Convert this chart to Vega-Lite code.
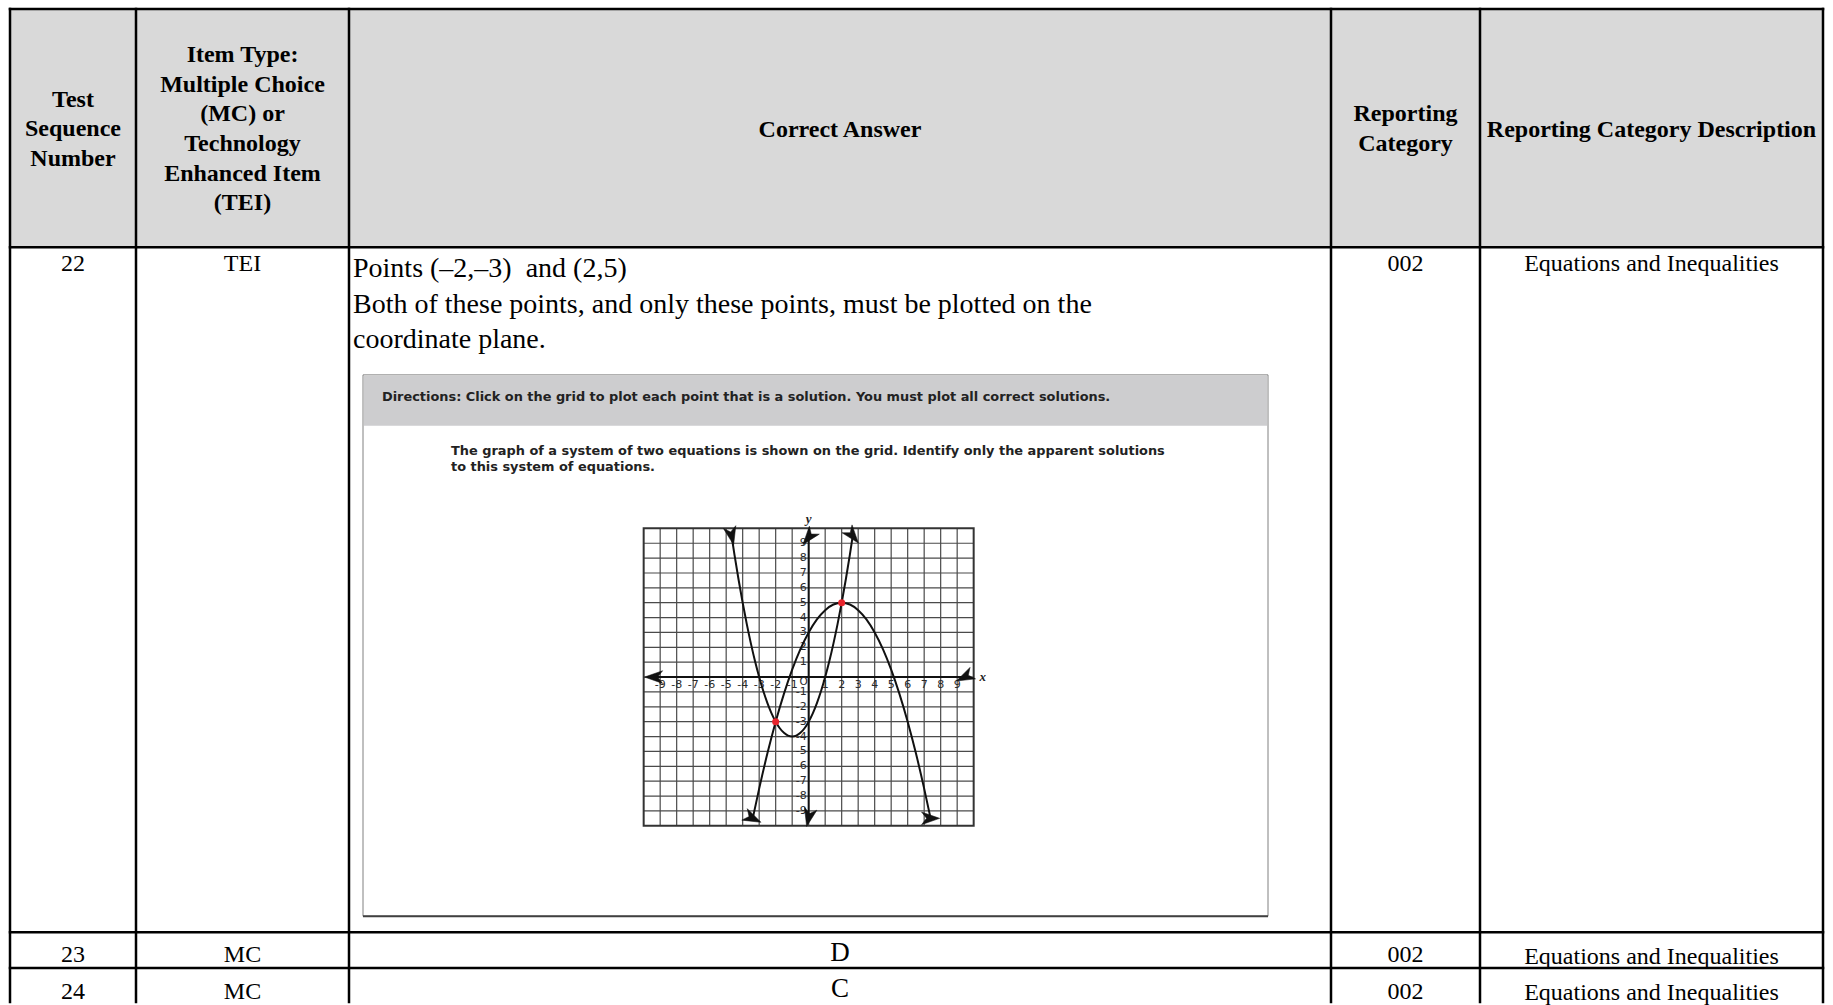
{
  "$schema": "https://vega.github.io/schema/vega-lite/v6.json",
  "width": 1833,
  "height": 1005,
  "autosize": {"type": "fit", "contains": "padding"},
  "padding": 0,
  "background": "white",
  "config": {"view": {"stroke": null}},
  "datasets": {
    "hdr": [{"x0": 10, "x1": 1823, "y0": 9, "y1": 248}],
    "box": [{"x0": 363, "x1": 1268, "y0": 376, "y1": 919}],
    "band": [{"x0": 364, "x1": 1267, "y0": 377, "y1": 427}],
    "vlines": [{"x": 10}, {"x": 136}, {"x": 349}, {"x": 1331}, {"x": 1480}, {"x": 1823}],
    "hlines": [{"y": 9}, {"y": 248}, {"y": 935}, {"y": 971}],
    "headers": [
      {"x": 73, "y": 100, "t": "Test\nSequence\nNumber"},
      {"x": 242.5, "y": 55, "t": "Item Type:\nMultiple Choice\n(MC) or\nTechnology\nEnhanced Item\n(TEI)"},
      {"x": 840, "y": 130, "t": "Correct Answer"},
      {"x": 1405.5, "y": 114.6, "t": "Reporting\nCategory"},
      {"x": 1651.5, "y": 130, "t": "Reporting Category Description"}
    ],
    "cells": [
      {"x": 73, "y": 265, "t": "22"},
      {"x": 242.5, "y": 265, "t": "TEI"},
      {"x": 1405.5, "y": 265, "t": "002"},
      {"x": 1651.5, "y": 265, "t": "Equations and Inequalities"},
      {"x": 73, "y": 958, "t": "23"},
      {"x": 242.5, "y": 958, "t": "MC"},
      {"x": 1405.5, "y": 958, "t": "002"},
      {"x": 1651.5, "y": 959.5, "t": "Equations and Inequalities"},
      {"x": 73, "y": 994.5, "t": "24"},
      {"x": 242.5, "y": 994.5, "t": "MC"},
      {"x": 1405.5, "y": 994.5, "t": "002"},
      {"x": 1651.5, "y": 995.5, "t": "Equations and Inequalities"}
    ],
    "letters": [
      {"x": 840, "y": 956, "t": "D"},
      {"x": 840, "y": 992, "t": "C"}
    ],
    "answer": [
      {"x": 353, "y": 270, "t": "Points (–2,–3)\u00a0 and (2,5)"},
      {"x": 353, "y": 306, "t": "Both of these points, and only these points, must be plotted on the"},
      {"x": 353, "y": 341, "t": "coordinate plane."}
    ],
    "directions": [
      {"x": 382, "y": 398.5, "t": "Directions: Click on the grid to plot each point that is a solution. You must plot all correct solutions."}
    ],
    "question": [
      {"x": 451, "y": 452, "t": "The graph of a system of two equations is shown on the grid. Identify only the apparent solutions"},
      {"x": 451, "y": 468, "t": "to this system of equations."}
    ],
    "grid": [
      {"v": -9}, {"v": -8}, {"v": -7}, {"v": -6}, {"v": -5}, {"v": -4}, {"v": -3}, {"v": -2}, {"v": -1}, {"v": 0},
      {"v": 1}, {"v": 2}, {"v": 3}, {"v": 4}, {"v": 5}, {"v": 6}, {"v": 7}, {"v": 8}, {"v": 9}
    ],
    "gridbox": [{"x0": -10, "x1": 10, "y0": -10, "y1": 10}],
    "ticks": [
      {"v": -9, "t": "-9"}, {"v": -8, "t": "-8"}, {"v": -7, "t": "-7"}, {"v": -6, "t": "-6"}, {"v": -5, "t": "-5"},
      {"v": -4, "t": "-4"}, {"v": -3, "t": "-3"}, {"v": -2, "t": "-2"}, {"v": -1, "t": "-1"},
      {"v": 1, "t": "1"}, {"v": 2, "t": "2"}, {"v": 3, "t": "3"}, {"v": 4, "t": "4"}, {"v": 5, "t": "5"},
      {"v": 6, "t": "6"}, {"v": 7, "t": "7"}, {"v": 8, "t": "8"}, {"v": 9, "t": "9"}
    ],
    "curves": [
      {"s": "up", "x": -4.67, "y": 9.49}, {"s": "up", "x": -4.5, "y": 8.25}, {"s": "up", "x": -4.25, "y": 6.56},
      {"s": "up", "x": -4, "y": 5}, {"s": "up", "x": -3.75, "y": 3.56}, {"s": "up", "x": -3.5, "y": 2.25},
      {"s": "up", "x": -3.25, "y": 1.06}, {"s": "up", "x": -3, "y": 0}, {"s": "up", "x": -2.75, "y": -0.94},
      {"s": "up", "x": -2.5, "y": -1.75}, {"s": "up", "x": -2.25, "y": -2.44}, {"s": "up", "x": -2, "y": -3},
      {"s": "up", "x": -1.75, "y": -3.44}, {"s": "up", "x": -1.5, "y": -3.75}, {"s": "up", "x": -1.25, "y": -3.94},
      {"s": "up", "x": -1, "y": -4}, {"s": "up", "x": -0.75, "y": -3.94}, {"s": "up", "x": -0.5, "y": -3.75},
      {"s": "up", "x": -0.25, "y": -3.44}, {"s": "up", "x": 0, "y": -3}, {"s": "up", "x": 0.25, "y": -2.44},
      {"s": "up", "x": 0.5, "y": -1.75}, {"s": "up", "x": 0.75, "y": -0.94}, {"s": "up", "x": 1, "y": 0},
      {"s": "up", "x": 1.25, "y": 1.06}, {"s": "up", "x": 1.5, "y": 2.25}, {"s": "up", "x": 1.75, "y": 3.56},
      {"s": "up", "x": 2, "y": 5}, {"s": "up", "x": 2.25, "y": 6.56}, {"s": "up", "x": 2.5, "y": 8.25},
      {"s": "up", "x": 2.67, "y": 9.49},
      {"s": "down", "x": -3.39, "y": -9.5}, {"s": "down", "x": -3, "y": -7.5}, {"s": "down", "x": -2.5, "y": -5.13},
      {"s": "down", "x": -2, "y": -3}, {"s": "down", "x": -1.5, "y": -1.13}, {"s": "down", "x": -1, "y": 0.5},
      {"s": "down", "x": -0.5, "y": 1.88}, {"s": "down", "x": 0, "y": 3}, {"s": "down", "x": 0.5, "y": 3.88},
      {"s": "down", "x": 1, "y": 4.5}, {"s": "down", "x": 1.5, "y": 4.88}, {"s": "down", "x": 2, "y": 5},
      {"s": "down", "x": 2.5, "y": 4.88}, {"s": "down", "x": 3, "y": 4.5}, {"s": "down", "x": 3.5, "y": 3.88},
      {"s": "down", "x": 4, "y": 3}, {"s": "down", "x": 4.5, "y": 1.88}, {"s": "down", "x": 5, "y": 0.5},
      {"s": "down", "x": 5.5, "y": -1.13}, {"s": "down", "x": 6, "y": -3}, {"s": "down", "x": 6.5, "y": -5.13},
      {"s": "down", "x": 7, "y": -7.5}, {"s": "down", "x": 7.39, "y": -9.5}
    ],
    "arrows": [
      {"id": "xl", "x": -9.4, "y": 0}, {"id": "xr", "x": 9.45, "y": 0},
      {"id": "yt", "x": 0, "y": 9.4}, {"id": "yb", "x": 0, "y": -9.45},
      {"id": "ul", "x": -4.67, "y": 9.49}, {"id": "ur", "x": 2.67, "y": 9.49},
      {"id": "dl", "x": -3.39, "y": -9.5}, {"id": "dr", "x": 7.39, "y": -9.5}
    ],
    "sol": [{"x": -2, "y": -3}, {"x": 2, "y": 5}],
    "axislabels": [{"x": 10.55, "y": 0, "t": "x"}, {"x": 0, "y": 10.6, "t": "y"}]
  },
  "layer": [
    {
      "layer": [
        {
          "data": {"name": "hdr"},
          "mark": {"type": "rect", "fill": "#d9d9d9"},
          "encoding": {
            "x": {"field": "x0", "type": "quantitative", "scale": {"domain": [0, 1833], "nice": false, "zero": false}, "axis": null},
            "x2": {"field": "x1"},
            "y": {"field": "y0", "type": "quantitative", "scale": {"domain": [0, 1005], "nice": false, "zero": false, "reverse": true}, "axis": null},
            "y2": {"field": "y1"}
          }
        },
        {
          "data": {"name": "box"},
          "mark": {"type": "rect", "fill": "white", "stroke": "#808080", "strokeWidth": 1},
          "encoding": {
            "x": {"field": "x0", "type": "quantitative", "scale": {"domain": [0, 1833], "nice": false, "zero": false}, "axis": null},
            "x2": {"field": "x1"},
            "y": {"field": "y0", "type": "quantitative", "scale": {"domain": [0, 1005], "nice": false, "zero": false, "reverse": true}, "axis": null},
            "y2": {"field": "y1"}
          }
        },
        {
          "data": {"name": "band"},
          "mark": {"type": "rect", "fill": "#cdcdcf"},
          "encoding": {
            "x": {"field": "x0", "type": "quantitative", "scale": {"domain": [0, 1833], "nice": false, "zero": false}, "axis": null},
            "x2": {"field": "x1"},
            "y": {"field": "y0", "type": "quantitative", "scale": {"domain": [0, 1005], "nice": false, "zero": false, "reverse": true}, "axis": null},
            "y2": {"field": "y1"}
          }
        },
        {
          "data": {"name": "box"},
          "mark": {"type": "rule", "stroke": "#404040", "strokeWidth": 2},
          "encoding": {
            "x": {"field": "x0", "type": "quantitative", "scale": {"domain": [0, 1833], "nice": false, "zero": false}, "axis": null},
            "x2": {"field": "x1"},
            "y": {"field": "y1", "type": "quantitative", "scale": {"domain": [0, 1005], "nice": false, "zero": false, "reverse": true}, "axis": null}
          }
        },
        {
          "data": {"name": "vlines"},
          "mark": {"type": "rule", "stroke": "black", "strokeWidth": 2.5, "strokeCap": "square"},
          "encoding": {
            "x": {"field": "x", "type": "quantitative", "scale": {"domain": [0, 1833], "nice": false, "zero": false}, "axis": null},
            "y": {"datum": 9, "type": "quantitative", "scale": {"domain": [0, 1005], "nice": false, "zero": false, "reverse": true}, "axis": null},
            "y2": {"datum": 1005}
          }
        },
        {
          "data": {"name": "hlines"},
          "mark": {"type": "rule", "stroke": "black", "strokeWidth": 2.5, "strokeCap": "square"},
          "encoding": {
            "y": {"field": "y", "type": "quantitative", "scale": {"domain": [0, 1005], "nice": false, "zero": false, "reverse": true}, "axis": null},
            "x": {"datum": 10, "type": "quantitative", "scale": {"domain": [0, 1833], "nice": false, "zero": false}, "axis": null},
            "x2": {"datum": 1823}
          }
        },
        {
          "data": {"name": "headers"},
          "mark": {"type": "text", "font": "Liberation Serif", "fontSize": 24, "fontWeight": "bold", "align": "center", "baseline": "middle", "lineBreak": "\n", "lineHeight": 29.7, "fill": "black"},
          "encoding": {
            "x": {"field": "x", "type": "quantitative", "scale": {"domain": [0, 1833], "nice": false, "zero": false}, "axis": null},
            "y": {"field": "y", "type": "quantitative", "scale": {"domain": [0, 1005], "nice": false, "zero": false, "reverse": true}, "axis": null},
            "text": {"field": "t"}
          }
        },
        {
          "data": {"name": "cells"},
          "mark": {"type": "text", "font": "Liberation Serif", "fontSize": 24, "align": "center", "baseline": "middle", "fill": "black"},
          "encoding": {
            "x": {"field": "x", "type": "quantitative", "scale": {"domain": [0, 1833], "nice": false, "zero": false}, "axis": null},
            "y": {"field": "y", "type": "quantitative", "scale": {"domain": [0, 1005], "nice": false, "zero": false, "reverse": true}, "axis": null},
            "text": {"field": "t"}
          }
        },
        {
          "data": {"name": "letters"},
          "mark": {"type": "text", "font": "Liberation Serif", "fontSize": 27, "align": "center", "baseline": "middle", "fill": "black"},
          "encoding": {
            "x": {"field": "x", "type": "quantitative", "scale": {"domain": [0, 1833], "nice": false, "zero": false}, "axis": null},
            "y": {"field": "y", "type": "quantitative", "scale": {"domain": [0, 1005], "nice": false, "zero": false, "reverse": true}, "axis": null},
            "text": {"field": "t"}
          }
        },
        {
          "data": {"name": "answer"},
          "mark": {"type": "text", "font": "Liberation Serif", "fontSize": 28, "align": "left", "baseline": "middle", "fill": "black"},
          "encoding": {
            "x": {"field": "x", "type": "quantitative", "scale": {"domain": [0, 1833], "nice": false, "zero": false}, "axis": null},
            "y": {"field": "y", "type": "quantitative", "scale": {"domain": [0, 1005], "nice": false, "zero": false, "reverse": true}, "axis": null},
            "text": {"field": "t"}
          }
        },
        {
          "data": {"name": "directions"},
          "mark": {"type": "text", "font": "DejaVu Sans", "fontSize": 12.9, "fontWeight": "bold", "align": "left", "baseline": "middle", "fill": "#222222"},
          "encoding": {
            "x": {"field": "x", "type": "quantitative", "scale": {"domain": [0, 1833], "nice": false, "zero": false}, "axis": null},
            "y": {"field": "y", "type": "quantitative", "scale": {"domain": [0, 1005], "nice": false, "zero": false, "reverse": true}, "axis": null},
            "text": {"field": "t"}
          }
        },
        {
          "data": {"name": "question"},
          "mark": {"type": "text", "font": "DejaVu Sans", "fontSize": 12.9, "fontWeight": "bold", "align": "left", "baseline": "middle", "fill": "#222222"},
          "encoding": {
            "x": {"field": "x", "type": "quantitative", "scale": {"domain": [0, 1833], "nice": false, "zero": false}, "axis": null},
            "y": {"field": "y", "type": "quantitative", "scale": {"domain": [0, 1005], "nice": false, "zero": false, "reverse": true}, "axis": null},
            "text": {"field": "t"}
          }
        }
      ]
    },
    {
      "layer": [
        {
          "data": {"name": "grid"},
          "mark": {"type": "rule", "stroke": "#4a4a4a", "strokeWidth": 1.2},
          "encoding": {
            "x": {"field": "v", "type": "quantitative", "scale": {"domain": [-49.01, 62.08], "nice": false, "zero": false}, "axis": null},
            "y": {"datum": -10, "type": "quantitative", "scale": {"domain": [-21.85, 45.53], "nice": false, "zero": false}, "axis": null},
            "y2": {"datum": 10}
          }
        },
        {
          "data": {"name": "grid"},
          "mark": {"type": "rule", "stroke": "#4a4a4a", "strokeWidth": 1.2},
          "encoding": {
            "y": {"field": "v", "type": "quantitative", "scale": {"domain": [-21.85, 45.53], "nice": false, "zero": false}, "axis": null},
            "x": {"datum": -10, "type": "quantitative", "scale": {"domain": [-49.01, 62.08], "nice": false, "zero": false}, "axis": null},
            "x2": {"datum": 10}
          }
        },
        {
          "data": {"name": "gridbox"},
          "mark": {"type": "rect", "fill": null, "filled": false, "stroke": "#333333", "strokeWidth": 2},
          "encoding": {
            "x": {"field": "x0", "type": "quantitative", "scale": {"domain": [-49.01, 62.08], "nice": false, "zero": false}, "axis": null},
            "x2": {"field": "x1"},
            "y": {"field": "y0", "type": "quantitative", "scale": {"domain": [-21.85, 45.53], "nice": false, "zero": false}, "axis": null},
            "y2": {"field": "y1"}
          }
        },
        {
          "data": {"values": [{"a": "x"}]},
          "mark": {"type": "rule", "stroke": "#111111", "strokeWidth": 2},
          "encoding": {
            "x": {"datum": -9.5, "type": "quantitative", "scale": {"domain": [-49.01, 62.08], "nice": false, "zero": false}, "axis": null},
            "x2": {"datum": 9.5},
            "y": {"datum": 0, "type": "quantitative", "scale": {"domain": [-21.85, 45.53], "nice": false, "zero": false}, "axis": null}
          }
        },
        {
          "data": {"values": [{"a": "y"}]},
          "mark": {"type": "rule", "stroke": "#111111", "strokeWidth": 2},
          "encoding": {
            "y": {"datum": -9.5, "type": "quantitative", "scale": {"domain": [-21.85, 45.53], "nice": false, "zero": false}, "axis": null},
            "y2": {"datum": 9.5},
            "x": {"datum": 0, "type": "quantitative", "scale": {"domain": [-49.01, 62.08], "nice": false, "zero": false}, "axis": null}
          }
        },
        {
          "data": {"name": "ticks"},
          "mark": {"type": "text", "font": "DejaVu Sans", "fontSize": 11, "align": "center", "baseline": "top", "dy": 2, "fill": "#2a2a2a"},
          "encoding": {
            "x": {"field": "v", "type": "quantitative", "scale": {"domain": [-49.01, 62.08], "nice": false, "zero": false}, "axis": null},
            "y": {"datum": 0, "type": "quantitative", "scale": {"domain": [-21.85, 45.53], "nice": false, "zero": false}, "axis": null},
            "text": {"field": "t"}
          }
        },
        {
          "data": {"name": "ticks"},
          "mark": {"type": "text", "font": "DejaVu Sans", "fontSize": 11, "align": "right", "baseline": "middle", "dx": -2, "fill": "#2a2a2a"},
          "encoding": {
            "y": {"field": "v", "type": "quantitative", "scale": {"domain": [-21.85, 45.53], "nice": false, "zero": false}, "axis": null},
            "x": {"datum": 0, "type": "quantitative", "scale": {"domain": [-49.01, 62.08], "nice": false, "zero": false}, "axis": null},
            "text": {"field": "t"}
          }
        },
        {
          "data": {"values": [{"t": "O"}]},
          "mark": {"type": "text", "font": "DejaVu Sans", "fontSize": 10.5, "align": "right", "baseline": "top", "dx": -1, "dy": 0, "fill": "#2a2a2a"},
          "encoding": {
            "x": {"datum": 0, "type": "quantitative", "scale": {"domain": [-49.01, 62.08], "nice": false, "zero": false}, "axis": null},
            "y": {"datum": 0, "type": "quantitative", "scale": {"domain": [-21.85, 45.53], "nice": false, "zero": false}, "axis": null},
            "text": {"field": "t"}
          }
        },
        {
          "data": {"name": "axislabels"},
          "mark": {"type": "text", "font": "Liberation Serif", "fontSize": 13, "fontStyle": "italic", "fontWeight": "bold", "align": "center", "baseline": "middle", "fill": "#222222"},
          "encoding": {
            "x": {"field": "x", "type": "quantitative", "scale": {"domain": [-49.01, 62.08], "nice": false, "zero": false}, "axis": null},
            "y": {"field": "y", "type": "quantitative", "scale": {"domain": [-21.85, 45.53], "nice": false, "zero": false}, "axis": null},
            "text": {"field": "t"}
          }
        },
        {
          "data": {"name": "curves"},
          "mark": {"type": "line", "stroke": "#111111", "strokeWidth": 2, "interpolate": "monotone"},
          "encoding": {
            "x": {"field": "x", "type": "quantitative", "scale": {"domain": [-49.01, 62.08], "nice": false, "zero": false}, "axis": null},
            "y": {"field": "y", "type": "quantitative", "scale": {"domain": [-21.85, 45.53], "nice": false, "zero": false}, "axis": null},
            "detail": {"field": "s"}
          }
        },
        {
          "data": {"name": "arrows"},
          "mark": {"type": "point", "shape": "M0,-1L0.7,1L0,0.45L-0.7,1Z", "filled": true, "fill": "#111111", "stroke": "#111111", "strokeWidth": 0.5, "size": 330, "opacity": 1},
          "encoding": {
            "x": {"field": "x", "type": "quantitative", "scale": {"domain": [-49.01, 62.08], "nice": false, "zero": false}, "axis": null},
            "y": {"field": "y", "type": "quantitative", "scale": {"domain": [-21.85, 45.53], "nice": false, "zero": false}, "axis": null},
            "angle": {"field": "id", "type": "nominal", "scale": {"domain": ["xl", "xr", "yt", "yb", "ul", "ur", "dl", "dr"], "range": [270, 90, 0, 180, 351.4, 8.6, 191.6, 168.4]}, "legend": null}
          }
        },
        {
          "data": {"name": "sol"},
          "mark": {"type": "point", "filled": true, "fill": "#e8242c", "stroke": null, "size": 50, "opacity": 1},
          "encoding": {
            "x": {"field": "x", "type": "quantitative", "scale": {"domain": [-49.01, 62.08], "nice": false, "zero": false}, "axis": null},
            "y": {"field": "y", "type": "quantitative", "scale": {"domain": [-21.85, 45.53], "nice": false, "zero": false}, "axis": null}
          }
        }
      ]
    }
  ],
  "resolve": {"scale": {"x": "independent", "y": "independent"}}
}
